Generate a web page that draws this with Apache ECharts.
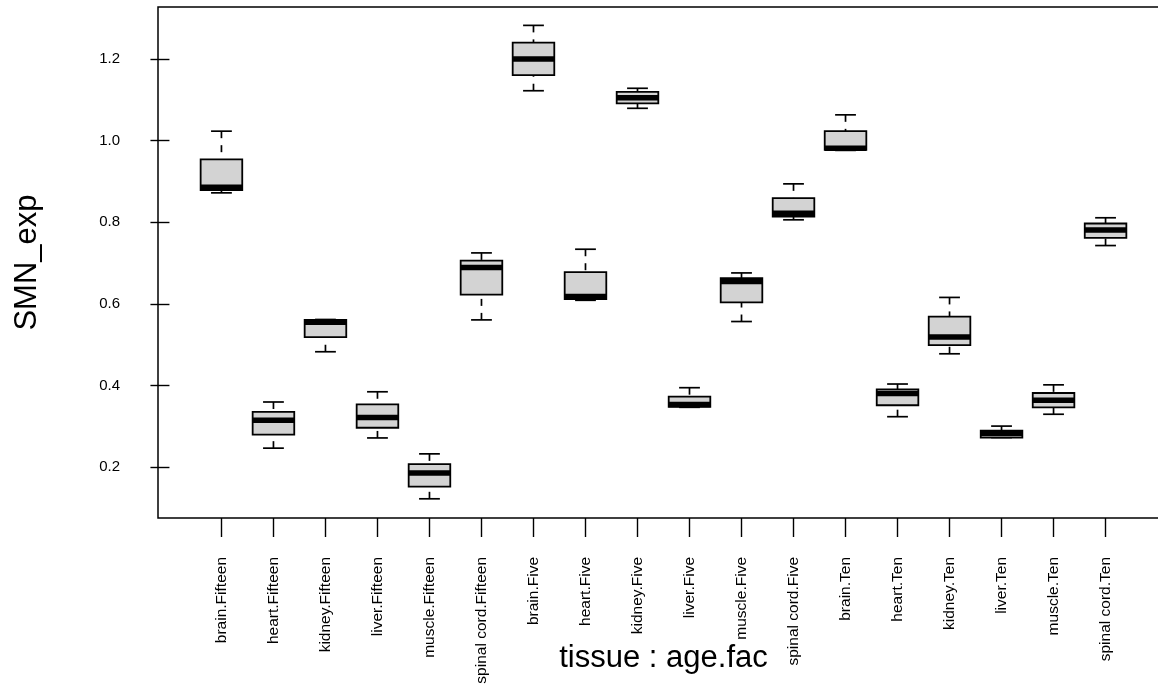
<!DOCTYPE html>
<html>
<head>
<meta charset="utf-8" />
<title>SMN_exp by tissue : age.fac</title>
<script src="https://cdn.jsdelivr.net/npm/echarts@6/dist/echarts.min.js"></script>
<style>
  html, body { margin: 0; padding: 0; background: #fff; }
  #chart { width: 1158px; height: 685px; }
</style>
</head>
<body>
<div id="chart"></div>
<script>
// groups on the x axis, in plotting order
var categories = [
  'brain.Fifteen', 'heart.Fifteen', 'kidney.Fifteen', 'liver.Fifteen', 'muscle.Fifteen', 'spinal cord.Fifteen',
  'brain.Five', 'heart.Five', 'kidney.Five', 'liver.Five', 'muscle.Five', 'spinal cord.Five',
  'brain.Ten', 'heart.Ten', 'kidney.Ten', 'liver.Ten', 'muscle.Ten', 'spinal cord.Ten'
];
// box statistics
var whiskerLow  = [0.872, 0.247, 0.483, 0.272, 0.123, 0.561, 1.122, 0.609, 1.079, 0.347, 0.557, 0.806, 0.976, 0.324, 0.478, 0.273, 0.330, 0.743];
var boxLow      = [0.879, 0.280, 0.519, 0.297, 0.153, 0.623, 1.160, 0.612, 1.091, 0.348, 0.604, 0.814, 0.977, 0.352, 0.499, 0.273, 0.347, 0.762];
var median      = [0.886, 0.315, 0.555, 0.322, 0.186, 0.689, 1.200, 0.618, 1.105, 0.354, 0.655, 0.822, 0.981, 0.381, 0.519, 0.283, 0.364, 0.781];
var boxHigh     = [0.954, 0.336, 0.561, 0.354, 0.208, 0.706, 1.240, 0.678, 1.119, 0.373, 0.663, 0.859, 1.023, 0.391, 0.569, 0.290, 0.382, 0.797];
var whiskerHigh = [1.023, 0.360, 0.562, 0.385, 0.233, 0.725, 1.282, 0.734, 1.128, 0.395, 0.676, 0.894, 1.063, 0.404, 0.616, 0.301, 0.402, 0.811];
var yTicks = [0.2, 0.4, 0.6, 0.8, 1.0, 1.2];

var xPos = categories.map(function (c, i) { return i + 1; });
var boxData = categories.map(function (c, i) {
  return [xPos[i], whiskerLow[i], boxLow[i], median[i], boxHigh[i], whiskerHigh[i]];
});

var font = 'Liberation Sans, Arial, Helvetica, sans-serif';
var myChart = echarts.init(document.getElementById('chart'));

var option = {
  animation: false,
  backgroundColor: '#fff',
  textStyle: { fontFamily: font },
  grid: {
    left: 158, top: 7, width: 1011, height: 511,
    outerBoundsMode: 'none',
    show: true, borderColor: '#000', borderWidth: 1.5, backgroundColor: '#fff'
  },
  xAxis: {
    type: 'value',
    min: -0.22, max: 19.22,
    splitLine: { show: false },
    axisLine: { show: false },
    axisTick: { show: true, customValues: xPos, length: 19, lineStyle: { color: '#000', width: 1.4 } },
    axisLabel: {
      customValues: xPos, rotate: 90, margin: 39, fontSize: 15.5, color: '#000', fontFamily: font,
      formatter: function (v) { return categories[Math.round(v) - 1]; }
    },
    name: 'tissue : age.fac',
    nameLocation: 'middle',
    nameGap: 125,
    nameMoveOverlap: false,
    nameTextStyle: { fontSize: 31, color: '#000', fontFamily: font }
  },
  yAxis: {
    type: 'value',
    min: 0.076, max: 1.327,
    splitLine: { show: false },
    axisLine: { show: false },
    axisTick: { show: true, customValues: yTicks, length: 19, lineStyle: { color: '#000', width: 1.4 } },
    axisLabel: {
      customValues: yTicks, margin: 38, fontSize: 15, color: '#000', fontFamily: font,
      formatter: function (v) { return v.toFixed(1); }
    },
    name: 'SMN_exp',
    nameLocation: 'middle',
    nameGap: 115,
    nameMoveOverlap: false,
    nameTextStyle: { fontSize: 31, color: '#000', fontFamily: font }
  },
  series: [{
    type: 'custom',
    data: boxData,
    encode: { x: 0, y: [1, 2, 3, 4, 5] },
    renderItem: function (params, api) {
      var x = api.value(0);
      var lo = api.coord([x, api.value(1)]);
      var q1 = api.coord([x, api.value(2)]);
      var md = api.coord([x, api.value(3)]);
      var q3 = api.coord([x, api.value(4)]);
      var hi = api.coord([x, api.value(5)]);
      var half = api.size([0.4, 0])[0];
      var cap = api.size([0.2, 0])[0];
      var cx = md[0];
      var dash = { stroke: '#000', lineWidth: 1.7, lineDash: [7, 7] };
      var solid = { stroke: '#000', lineWidth: 1.7 };
      return {
        type: 'group',
        children: [
          { type: 'line', shape: { x1: cx, y1: hi[1], x2: cx, y2: q3[1] }, style: dash },
          { type: 'line', shape: { x1: cx, y1: lo[1], x2: cx, y2: q1[1] }, style: dash },
          { type: 'line', shape: { x1: cx - cap, y1: hi[1], x2: cx + cap, y2: hi[1] }, style: solid },
          { type: 'line', shape: { x1: cx - cap, y1: lo[1], x2: cx + cap, y2: lo[1] }, style: solid },
          { type: 'rect', shape: { x: cx - half, y: q3[1], width: half * 2, height: q1[1] - q3[1] },
            style: { fill: '#d3d3d3', stroke: '#000', lineWidth: 1.8 } },
          { type: 'line', shape: { x1: cx - half, y1: md[1], x2: cx + half, y2: md[1] },
            style: { stroke: '#000', lineWidth: 5.5, lineCap: 'butt' } }
        ]
      };
    }
  }]
};
myChart.setOption(option);
</script>
</body>
</html>
